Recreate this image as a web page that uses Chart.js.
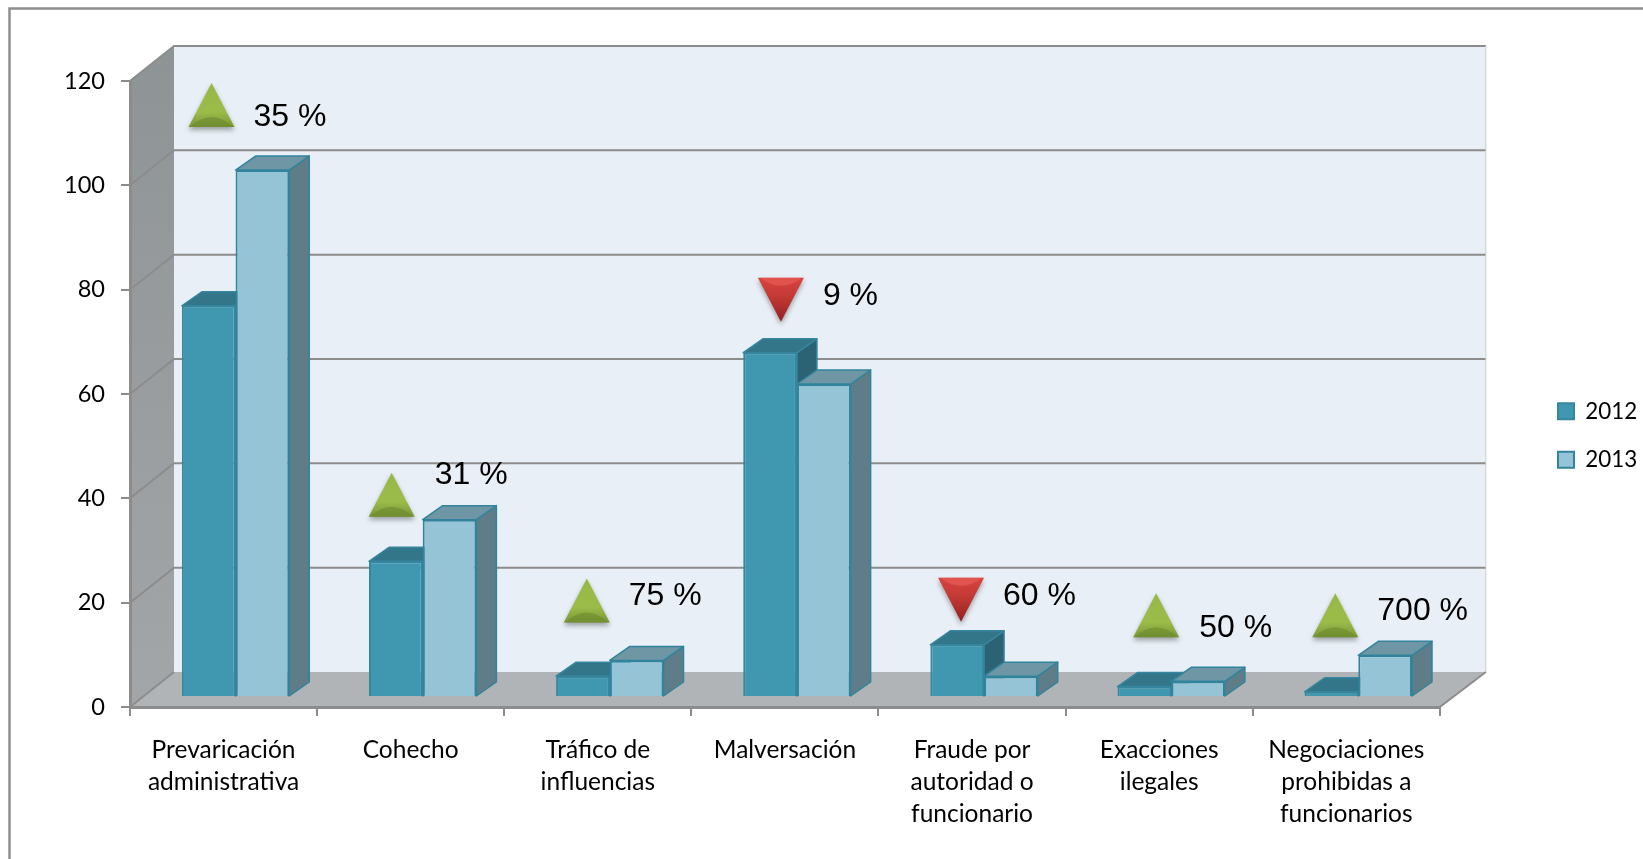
<!DOCTYPE html>
<html lang="es">
<head>
<meta charset="utf-8">
<title>Delitos 2012 - 2013</title>
<script src="https://cdn.jsdelivr.net/npm/chart.js@4/dist/chart.umd.min.js"></script>
<style>
html,body{margin:0;padding:0;background:#fff;overflow:hidden}
#wrap{position:absolute;left:0;top:0;width:1643px;height:859px}
canvas{display:block}
</style>
</head>
<body>
<div id="wrap"><canvas id="c" width="1643" height="859"></canvas></div>
<script>
// ----- data -----
const categories = [
  ['Prevaricación','administrativa'],
  ['Cohecho'],
  ['Tráfico de','influencias'],
  ['Malversación'],
  ['Fraude por','autoridad o','funcionario'],
  ['Exacciones','ilegales'],
  ['Negociaciones','prohibidas a','funcionarios']
];
const values2012 = [75, 26, 4, 66, 10, 2, 1];
const values2013 = [101, 34, 7, 60, 4, 3, 8];
const changeLabels = ['35 %','31 %','75 %','9 %','60 %','50 %','700 %'];
const changeUp = [true,true,true,false,false,true,true];
const yTicks = [0,20,40,60,80,100,120];

// ----- annotation placement, relative to the category and its tallest bar -----
const markerDx = [-24,-31,-23,-16,-23,-15,-23];      // triangle centre from category centre
const markerGap = [43,3,38,31,23,44,18];             // triangle bottom above the tallest bar top
const labelDx = [42,43,42,42,42,43,42];              // text left from triangle centre
const labelDy = [-10,-41,-26,-26,-26,-9,-26];        // text mid from triangle bottom

// ----- layout -----
const L = {left:130, top:81, right:1441, bottom:707, wallDx:44, wallDy:-35,
           barDx:12, barDy:-10, depthX:20, depthY:-14};

const C = {
  axis:'#8c8c8c', wall:'#e8eff6',
  front12:'#4097b0', top12:'#33768a', side12:'#2c6374', stroke12:'#35869e',
  front13:'#94c4d6', top13:'#6f96a4', side13:'#5e7d89', stroke13:'#31849c'
};

const poly = (ctx, pts, fill, stroke, lw) => {
  ctx.beginPath();
  pts.forEach((p,i)=> i?ctx.lineTo(p[0],p[1]):ctx.moveTo(p[0],p[1]));
  ctx.closePath();
  if(fill){ctx.fillStyle=fill;ctx.fill();}
  if(stroke){ctx.strokeStyle=stroke;ctx.lineWidth=lw||1;ctx.lineJoin='round';ctx.stroke();}
};

function triangle(ctx, cx, base, up){
  const w=23, h=44;
  const apex = up ? base-h : base+h;
  ctx.save();
  ctx.shadowColor='rgba(60,60,60,.45)'; ctx.shadowBlur=5; ctx.shadowOffsetY=3;
  const g = ctx.createLinearGradient(0,Math.min(base,apex),0,Math.max(base,apex));
  if(up){g.addColorStop(0,'#95b845');g.addColorStop(.65,'#9cbc4a');g.addColorStop(1,'#7a9735');}
  else  {g.addColorStop(0,'#d8443f');g.addColorStop(.4,'#c53a36');g.addColorStop(1,'#93201f');}
  poly(ctx,[[cx-w,base],[cx+w,base],[cx,apex]],g);
  ctx.restore();
  if(up){
    ctx.beginPath();ctx.moveTo(cx-w+1,base);
    ctx.quadraticCurveTo(cx,base-20,cx+w-1,base);ctx.closePath();
    ctx.fillStyle='rgba(105,135,45,.55)';ctx.fill();
  }else{
    ctx.beginPath();ctx.moveTo(cx-w+2,base);ctx.lineTo(cx+w-2,base);
    ctx.quadraticCurveTo(cx,base+16,cx-w+2,base);ctx.closePath();
    ctx.fillStyle='rgba(235,95,90,.6)';ctx.fill();
  }
}

const scene3d = {
  id:'scene3d',
  afterLayout(chart){
    const lg=chart.legend, w=lg.right-lg.left, h=lg.bottom-lg.top;
    lg.left=1532; lg.right=1532+w;
    lg.top=435.5-h/2; lg.bottom=435.5+h/2;
  },
  beforeDraw(chart){
    const ctx=chart.ctx, y=chart.scales.y, ar=chart.chartArea;
    ctx.save();
    // outer frame
    ctx.strokeStyle='#8f8f8f';ctx.lineWidth=2.5;
    ctx.beginPath();ctx.moveTo(9.5,870);ctx.lineTo(9.5,8.5);ctx.lineTo(1650,8.5);ctx.stroke();
    const a={l:ar.left,t:ar.top,r:ar.right,b:ar.bottom};
    const bx=a.l+L.wallDx, by=a.b+L.wallDy, tY=a.t+L.wallDy, bR=a.r+L.wallDx+2;
    // back wall
    ctx.fillStyle=C.wall;ctx.fillRect(bx,tY,bR-bx,by-tY);
    // left wall
    const gw=ctx.createLinearGradient(0,tY,0,a.b);
    gw.addColorStop(0,'#8e9395');gw.addColorStop(1,'#a3a6a8');
    poly(ctx,[[a.l,a.t],[bx,tY],[bx,by],[a.l,a.b]],gw);
    // floor
    poly(ctx,[[a.l,a.b],[bx,by],[bR,by],[a.r,a.b]],'#b1b4b7');
    // grid lines: back wall + diagonal on the side wall
    yTicks.forEach(t=>{
      const p=y.getPixelForValue(t);
      ctx.strokeStyle=C.axis;ctx.lineWidth=2;
      ctx.beginPath();ctx.moveTo(a.l,p);ctx.lineTo(bx,p+L.wallDy);
      if(t>0) ctx.lineTo(bR,p+L.wallDy);
      ctx.stroke();
    });
    // right end of floor
    ctx.beginPath();ctx.moveTo(a.r,a.b);ctx.lineTo(bR,by);ctx.stroke();
    // thin right edge of wall
    ctx.strokeStyle='#c9ced2';ctx.lineWidth=1;
    ctx.beginPath();ctx.moveTo(bR,tY);ctx.lineTo(bR,by);ctx.stroke();
    ctx.restore();
  },
  beforeDatasetsDraw(chart){
    const ctx=chart.ctx;
    // series are drawn left to right, each bar with its own top and side face
    chart.getDatasetMeta(0).data.forEach((_,i)=>{
      [0,1].forEach(d=>{
        const meta=chart.getDatasetMeta(d), el=meta.data[i];
        const p=el.getProps(['x','y','base','width'],true);
        const l=p.x-p.width/2+L.barDx, r=p.x+p.width/2+L.barDx;
        const t=p.y+L.barDy, b=p.base+L.barDy, dx=L.depthX, dy=L.depthY;
        const stroke=d?C.stroke13:C.stroke12;
        poly(ctx,[[r,t],[r+dx,t+dy],[r+dx,b+dy],[r,b]],d?C.side13:C.side12,stroke,1.5);
        poly(ctx,[[l,t],[l+dx,t+dy],[r+dx,t+dy],[r,t]],d?C.top13:C.top12,stroke,1.5);
        ctx.save();
        ctx.translate(L.barDx,L.barDy);
        el.draw(ctx);
        ctx.restore();
      });
    });
    return false;
  },
  afterDraw(chart){
    const ctx=chart.ctx,x=chart.scales.x,y=chart.scales.y;
    ctx.save();
    categories.forEach((_,i)=>{
      const top=y.getPixelForValue(Math.max(values2012[i],values2013[i]))+L.barDy;
      const cx=x.getPixelForValue(i)+L.barDx+markerDx[i];
      const base=top-markerGap[i];
      const up=changeUp[i];
      triangle(ctx,cx,up?base:base-44,up);
      ctx.fillStyle='#000';
      ctx.font='32px "Liberation Sans", Arial, sans-serif';
      ctx.textAlign='left';ctx.textBaseline='middle';
      ctx.fillText(changeLabels[i],cx+labelDx[i],base+labelDy[i]);
    });
    ctx.restore();
  }
};

new Chart(document.getElementById('c').getContext('2d'),{
  type:'bar',
  data:{labels:categories,datasets:[
    {label:'2012',data:values2012,backgroundColor:C.front12,borderColor:C.stroke12,borderWidth:2},
    {label:'2013',data:values2013,backgroundColor:C.front13,borderColor:C.stroke13,borderWidth:2}
  ]},
  plugins:[scene3d],
  options:{
    responsive:false,animation:false,
    layout:{padding:{left:0,top:L.top,right:88,bottom:0}},
    datasets:{bar:{barPercentage:1,categoryPercentage:0.574}},
    plugins:{
      tooltip:{enabled:false},
      legend:{
        position:'right',align:'center',
        labels:{color:'#000',font:{family:'Lato',size:22.4},boxWidth:16,boxHeight:16,padding:26},
        onClick:null
      }
    },
    scales:{
      x:{
        grid:{display:true,drawOnChartArea:false,color:C.axis,lineWidth:2,tickLength:9},
        border:{display:true,color:C.axis,width:3},
        ticks:{color:'#000',font:{family:'Lato',size:24.5,lineHeight:1.3},maxRotation:0,autoSkip:false,padding:18},
        afterFit(s){s.height=859-L.bottom;}
      },
      y:{
        min:0,max:120,
        grid:{display:true,drawOnChartArea:false,color:C.axis,lineWidth:2,tickLength:9},
        border:{display:true,color:C.axis,width:3},
        ticks:{color:'#000',font:{family:'Lato',size:23.6},stepSize:20,padding:16},
        afterFit(s){s.width=L.left;}
      }
    }
  }
});
</script>
</body>
</html>
